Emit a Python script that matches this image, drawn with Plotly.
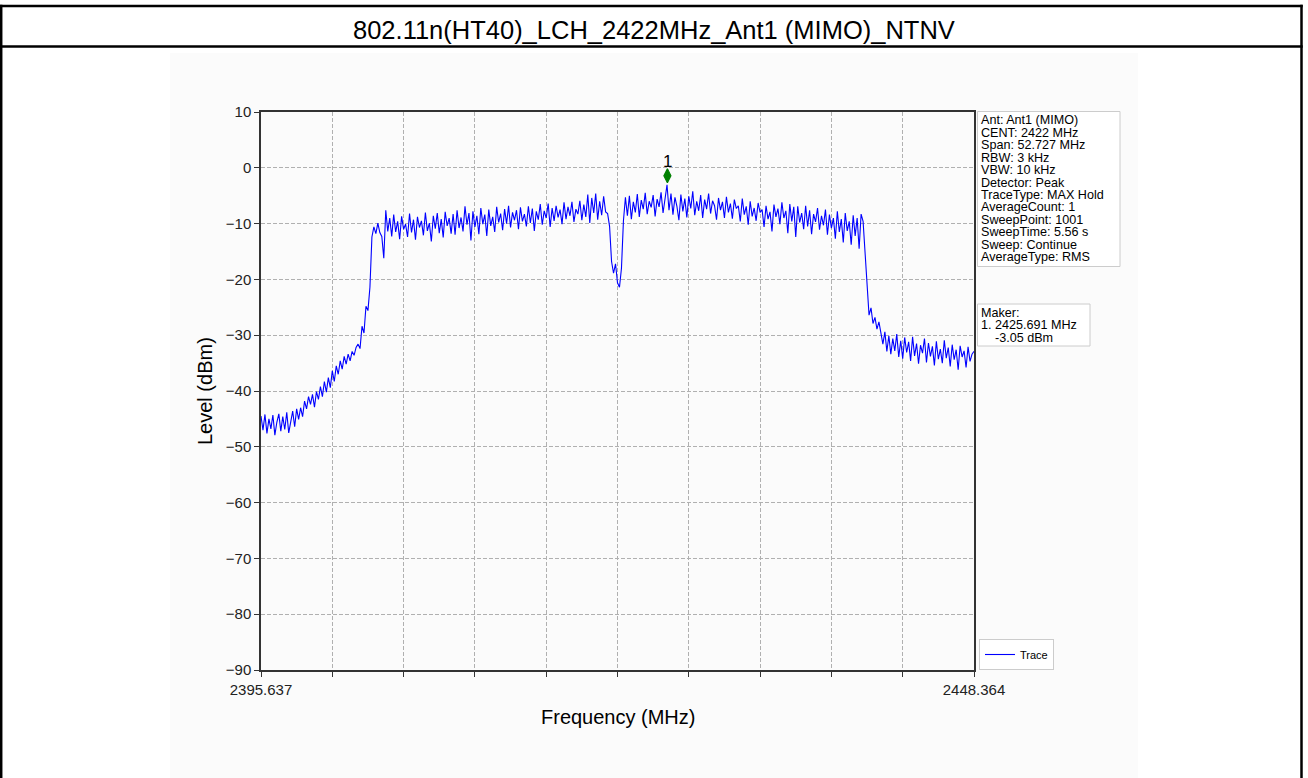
import numpy as np
import plotly.graph_objects as go

# ---------------------------------------------------------------- data
title_text = "802.11n(HT40)_LCH_2422MHz_Ant1 (MIMO)_NTNV"

freq_start = 2395.637
freq_stop = 2448.364
level_min, level_max = -90, 10
level_ticks = [10, 0, -10, -20, -30, -40, -50, -60, -70, -80, -90]
freq_tick_labels = ["2395.637", "", "", "", "", "", "", "", "", "", "2448.364"]

# spectrum trace (dBm), evenly spaced over the span
trace_level = [
    -44.5, -47.0, -44.2, -47.6, -45.0, -46.8, -44.3, -47.9, -45.6, -44.1,
    -47.2, -44.6, -46.9, -43.8, -47.5, -45.2, -43.6, -46.4, -43.2, -45.1,
    -43.0, -44.6, -41.8, -43.2, -41.0, -42.4, -40.6, -42.9, -40.1, -41.5,
    -39.2, -41.0, -38.3, -40.2, -37.6, -39.4,
    -36.4, -38.3, -35.5, -37.0, -34.6, -36.1, -33.8, -35.2, -33.4, -34.6,
    -32.9, -33.6, -32.2, -31.6, -32.4,
    -28.4, -29.6, -24.8, -25.6, -21.4, -12.4, -10.6, -11.8, -9.9, -11.6,
    -12.3, -16.2, -7.6, -11.4,
    -9.0, -12.3, -8.4, -11.5, -9.6, -12.8, -8.7, -11.0, -10.1, -12.4,
    -8.2, -11.6, -9.3, -12.9, -8.8, -10.7, -9.5, -12.1, -8.0, -11.3,
    -9.9, -13.2, -8.6, -10.9, -8.1, -11.7, -9.2, -12.5, -7.9, -10.4,
    -9.0, -11.8, -8.3, -12.0, -7.6, -10.8, -8.9, -11.4, -6.9, -10.2,
    -8.1, -13.0, -7.8, -10.6, -8.6, -11.9, -7.2, -10.1, -8.4, -12.2,
    -7.5, -10.4, -8.8, -11.5, -7.0, -9.8, -8.2, -11.2, -7.4, -10.0,
    -6.8, -10.7, -8.0, -9.4, -7.6, -11.0, -7.1, -9.6, -8.3, -10.5,
    -6.9, -9.9, -7.3, -11.3, -7.8, -9.3, -6.5, -10.2, -7.7, -9.0,
    -6.4, -10.6, -7.2, -9.5, -6.8, -8.9, -7.5, -10.1, -6.2, -9.2,
    -7.0, -8.6, -6.1, -9.7, -7.4, -8.3, -5.9, -9.4, -6.6, -8.8,
    -4.8, -9.9, -5.4, -8.1, -4.6, -9.3, -6.0, -8.5, -5.1, -7.9, -8.2,
    -10.5, -16.8, -18.9, -17.2, -20.6, -21.4, -18.0, -9.5,
    -5.3,
    -8.6, -5.0, -9.2, -6.1, -8.0, -4.7, -8.8, -5.8, -7.4, -4.5,
    -8.3, -6.0, -7.1, -4.9, -8.7, -5.6, -7.0, -4.4, -8.1, -5.2,
    -3.05,
    -7.6, -4.6, -8.4, -5.3, -6.9, -9.4, -4.8, -7.8, -5.5,
    -8.9, -5.1, -7.3, -4.2, -8.5, -6.0, -7.7, -4.9, -9.0, -5.7,
    -7.4, -4.6, -8.2, -5.9, -6.8, -9.3, -5.4, -7.6, -6.1, -9.0,
    -5.2, -8.0, -6.4, -9.1, -5.7, -7.3, -6.8, -9.6, -5.5, -8.4,
    -6.9, -10.2, -6.0, -8.7, -7.2, -9.5, -6.3, -8.0, -7.5, -10.6,
    -6.8, -9.2, -7.9, -11.4, -6.6, -8.8, -7.3, -10.1, -6.2, -9.0,
    -7.7, -11.7, -6.5, -9.6, -7.0, -12.4, -6.9, -9.8, -8.1, -11.0,
    -6.8, -10.5, -7.6, -11.9, -8.3, -9.7, -7.2, -11.1, -8.6, -10.3,
    -7.5, -12.0, -8.4, -10.8, -9.0, -12.7, -7.8, -11.5, -9.2, -13.4,
    -8.1, -11.3, -9.6, -13.8, -8.5, -12.2, -9.0, -14.5, -8.3,
    -9.6, -15.0, -21.2, -26.4, -25.1, -27.9, -26.8, -28.9, -27.6, -29.8,
    -31.6, -29.4, -32.9,
    -30.1, -33.4, -30.6, -32.8, -29.8, -33.9, -31.0, -34.2, -30.4, -33.1,
    -31.2, -34.6, -30.3, -33.7, -31.5, -35.1, -31.8, -33.2, -30.6, -34.9,
    -31.4, -33.8, -32.0, -35.4, -31.1, -34.3, -32.5, -35.0, -30.9, -34.1,
    -32.2, -35.6, -31.7, -34.4, -32.6, -36.2, -31.9, -33.9, -32.8, -35.8,
    -32.1, -34.7, -33.4, -32.9,
]

marker_freq = 2425.691
marker_level = -3.05

info_lines = [
    "Ant: Ant1 (MIMO)",
    "CENT: 2422 MHz",
    "Span: 52.727 MHz",
    "RBW: 3 kHz",
    "VBW: 10 kHz",
    "Detector: Peak",
    "TraceType: MAX Hold",
    "AverageCount: 1",
    "SweepPoint: 1001",
    "SweepTime: 5.56 s",
    "Sweep: Continue",
    "AverageType: RMS",
]
marker_lines = ["Maker:", "1. 2425.691 MHz", "\u00a0\u00a0\u00a0\u00a0-3.05 dBm"]

# ---------------------------------------------------------------- layout geometry (pixels)
FIG_W, FIG_H = 1308, 778
PLOT_L, PLOT_R, PLOT_T, PLOT_B = 261, 974, 112, 670
FONT = "Arial, 'Liberation Sans', sans-serif"


def px(x):
    return (x - PLOT_L) / (PLOT_R - PLOT_L)


def py(y):
    return (PLOT_B - y) / (PLOT_B - PLOT_T)


freq = np.linspace(freq_start, freq_stop, len(trace_level))
span = freq_stop - freq_start
freq_ticks = [freq_start + k * span / 10 for k in range(11)]

fig = go.Figure()

fig.add_trace(go.Scatter(
    x=freq, y=trace_level, mode="lines", name="Trace",
    line=dict(color="#0000ff", width=1.1),
    hoverinfo="skip",
))

# marker pointer sits just above the marked point
diamond_lift_px = 9
dB_per_px = (level_max - level_min) / (PLOT_B - PLOT_T)
fig.add_trace(go.Scatter(
    x=[marker_freq], y=[marker_level + diamond_lift_px * dB_per_px],
    mode="markers", showlegend=False, hoverinfo="skip",
    marker=dict(symbol="diamond-tall", size=10, color="#008000",
                line=dict(color="#008000", width=1.2)),
))

shapes = []
# light panel behind the chart image
shapes.append(dict(type="rect", xref="paper", yref="paper",
                   x0=px(170), x1=px(1138), y0=py(53), y1=py(FIG_H + 5),
                   fillcolor="#fbfbfb", line=dict(width=0), layer="below"))
# table frame
frame = dict(color="#000000", width=2.5)
shapes.append(dict(type="line", xref="paper", yref="paper",
                   x0=px(1.2), x1=px(1.2), y0=py(4.8), y1=py(FIG_H + 5), line=frame))
shapes.append(dict(type="line", xref="paper", yref="paper",
                   x0=px(1301.5), x1=px(1301.5), y0=py(4.8), y1=py(FIG_H + 5), line=frame))
shapes.append(dict(type="line", xref="paper", yref="paper",
                   x0=px(0), x1=px(1302.7), y0=py(6), y1=py(6), line=frame))
shapes.append(dict(type="line", xref="paper", yref="paper",
                   x0=px(0), x1=px(1302.7), y0=py(46.5), y1=py(46.5), line=frame))
# info boxes
box_line = dict(color="#cccccc", width=1)
shapes.append(dict(type="rect", xref="paper", yref="paper",
                   x0=px(977.5), x1=px(1120), y0=py(111.5), y1=py(266.5),
                   fillcolor="rgba(255,255,255,0.85)", line=box_line))
shapes.append(dict(type="rect", xref="paper", yref="paper",
                   x0=px(977.5), x1=px(1090), y0=py(304), y1=py(346),
                   fillcolor="rgba(255,255,255,0.85)", line=box_line))

annotations = []
annotations.append(dict(text=title_text, xref="paper", yref="paper",
                        x=px(654), y=py(30.5), xanchor="center", yanchor="middle",
                        showarrow=False, font=dict(family=FONT, size=25.5, color="#000000")))
annotations.append(dict(text="Level (dBm)", xref="paper", yref="paper",
                        x=px(205), y=py(391), xanchor="center", yanchor="middle",
                        textangle=-90, showarrow=False,
                        font=dict(family=FONT, size=20, color="#000000")))
annotations.append(dict(text="Frequency (MHz)", xref="paper", yref="paper",
                        x=px(618), y=py(717), xanchor="center", yanchor="middle",
                        showarrow=False, font=dict(family=FONT, size=20, color="#000000")))

line_step = 12.4
info_font = dict(family=FONT, size=12.6, color="#000000")
for k, t in enumerate(info_lines):
    annotations.append(dict(text=t, xref="paper", yref="paper",
                            x=px(980), y=py(120.5 + k * line_step),
                            xanchor="left", yanchor="middle", showarrow=False,
                            borderpad=0, font=info_font))
for k, t in enumerate(marker_lines):
    annotations.append(dict(text=t, xref="paper", yref="paper",
                            x=px(980), y=py(312.8 + k * line_step),
                            xanchor="left", yanchor="middle", showarrow=False,
                            borderpad=0, font=info_font))
# marker number above the pointer
annotations.append(dict(text="1", x=marker_freq, y=marker_level, xref="x", yref="y",
                        xanchor="center", yanchor="middle", yshift=23.5,
                        showarrow=False, font=dict(family=FONT, size=17, color="#000000")))

grid_style = dict(showgrid=True, gridcolor="#b0b0b0", gridwidth=0.8, griddash="4px,2px")
axis_line = dict(showline=True, linecolor="#333333", linewidth=1.5, mirror=True,
                 ticks="outside", ticklen=5, tickwidth=1.2, tickcolor="#333333",
                 zeroline=False,
                 tickfont=dict(family=FONT, size=15, color="#222222"))

fig.update_xaxes(range=[freq_start, freq_stop], tickmode="array",
                 tickvals=freq_ticks, ticktext=freq_tick_labels,
                 **grid_style, **axis_line)
fig.update_yaxes(range=[level_min, level_max], tickmode="array",
                 tickvals=level_ticks,
                 **grid_style, **axis_line)

fig.update_layout(
    width=FIG_W, height=FIG_H,
    margin=dict(l=PLOT_L, r=FIG_W - PLOT_R, t=PLOT_T, b=FIG_H - PLOT_B, autoexpand=False),
    paper_bgcolor="#ffffff", plot_bgcolor="#ffffff",
    font=dict(family=FONT),
    shapes=shapes, annotations=annotations,
    showlegend=True,
    legend=dict(x=px(979), y=py(670), xanchor="left", yanchor="bottom",
                bgcolor="rgba(255,255,255,0.85)", bordercolor="#cccccc", borderwidth=1,
                font=dict(family=FONT, size=11, color="#000000"),
                itemwidth=30, tracegroupgap=0),
    hovermode=False,
)

fig.write_html("out.html", config={"displayModeBar": False})
